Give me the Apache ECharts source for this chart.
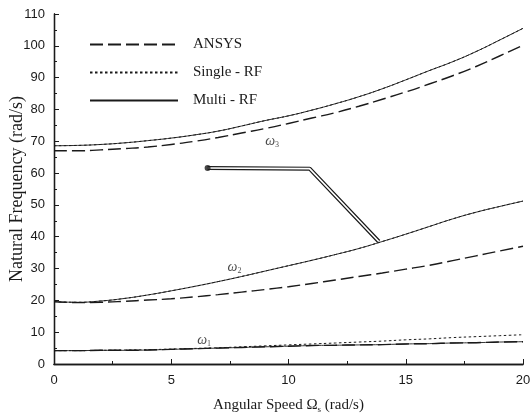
<!DOCTYPE html>
<html><head><meta charset="utf-8">
<script src="https://cdn.jsdelivr.net/npm/echarts@6/dist/echarts.min.js"></script>
<style>html,body{margin:0;padding:0;background:#fff}#c{width:532px;height:417px}</style>
</head><body><div id="c"></div>
<script>
// Angular speed (rad/s)
var speeds = [0,1,2,3,4,5,6,7,8,9,10,11,12,13,14,15,16,17,18,19,20];
// ANSYS
var ansysW1 = [4.2,4.2,4.3,4.3,4.4,4.6,4.8,5.0,5.2,5.4,5.6,5.8,5.9,6.0,6.1,6.3,6.4,6.6,6.7,6.9,7.0];
var ansysW2 = [19.6,19.3,19.4,19.7,20.1,20.5,21.1,21.8,22.6,23.4,24.3,25.3,26.4,27.5,28.6,29.8,31.0,32.5,34.0,35.5,37.0];
var ansysW3 = [67.0,67.0,67.3,67.7,68.2,69.0,70.0,71.2,72.6,74.0,75.6,77.3,79.0,81.0,83.2,85.5,88.0,90.6,93.5,96.8,100.2];
// Single - RF
var singleW1 = [4.2,4.2,4.3,4.4,4.5,4.7,4.9,5.1,5.4,5.7,6.0,6.3,6.6,6.9,7.2,7.6,7.9,8.3,8.6,8.9,9.2];
var singleW2 = [19.6,19.4,19.8,20.6,21.7,23.0,24.4,25.9,27.5,29.2,30.9,32.6,34.4,36.3,38.5,40.8,43.2,45.6,47.7,49.5,51.2];
var singleW3 = [68.6,68.7,69.0,69.5,70.2,71.0,72.0,73.2,74.8,76.5,78.0,79.8,81.8,84.0,86.5,89.3,92.2,95.0,98.2,101.8,105.5];
// Multi - RF
var multiW1 = [4.2,4.2,4.3,4.3,4.4,4.6,4.8,5.0,5.2,5.4,5.6,5.8,5.9,6.0,6.1,6.3,6.4,6.6,6.7,6.9,7.0];
var multiW2 = [19.6,19.4,19.8,20.6,21.7,23.0,24.4,25.9,27.5,29.2,30.9,32.6,34.4,36.3,38.5,40.8,43.2,45.6,47.7,49.5,51.2];
var multiW3 = [68.6,68.7,69.0,69.5,70.2,71.0,72.0,73.2,74.8,76.5,78.0,79.8,81.8,84.0,86.5,89.3,92.2,95.0,98.2,101.8,105.5];
// callout polyline (speed, frequency)
var calloutX = [6.55, 10.9, 13.85];
var calloutY = [61.6, 61.4, 38.5];
// mode labels
var modeNames = ['3','2','1'];
var modeX = [9.3, 7.7, 6.4];
var modeY = [70.0, 30.4, 7.4];

var xTicks = [0,5,10,15,20];
var yTicks = [0,10,20,30,40,50,60,70,80,90,100,110];

function pairs(xs, ys){ return xs.map(function(x,i){ return [x, ys[i]]; }); }

var serif = '"Liberation Serif","Times New Roman",serif';
var sans = '"Liberation Sans",Arial,sans-serif';
var ink = '#1a1a1a';

var styles = {
  'ANSYS': {type:[13,5], width:1.4},
  'Single - RF': {type:[2.5,2.5], width:1},
  'Multi - RF': {type:'solid', width:0.9}
};
function curve(name, ys){
  return {name:name, type:'line', data:pairs(speeds, ys), symbol:'none', smooth:true,
    lineStyle:{color:ink, width:styles[name].width, type:styles[name].type},
    itemStyle:{color:ink}, silent:true, animation:false, z:3};
}

var series = [
  curve('ANSYS', ansysW1), curve('ANSYS', ansysW2), curve('ANSYS', ansysW3),
  curve('Single - RF', singleW1), curve('Single - RF', singleW2), curve('Single - RF', singleW3),
  curve('Multi - RF', multiW1), curve('Multi - RF', multiW2), curve('Multi - RF', multiW3),
  {type:'line', data:pairs(calloutX, calloutY), symbol:'none', lineStyle:{color:ink,width:4}, animation:false, silent:true, z:4},
  {type:'line', data:pairs(calloutX, calloutY), symbol:'none', lineStyle:{color:'#fff',width:1.6}, animation:false, silent:true, z:5},
  {type:'scatter', data:[[calloutX[0], calloutY[0]]], symbolSize:6, itemStyle:{color:ink}, animation:false, silent:true, z:6},
  {type:'scatter', symbolSize:0, animation:false, silent:true, z:6,
    data: modeNames.map(function(n,i){ return {value:[modeX[i], modeY[i]], name:n}; }),
    label:{show:true, position:'inside', formatter:function(p){ return '{w|ω}{s|'+p.name+'}'; },
      rich:{w:{fontFamily:serif, fontStyle:'italic', fontSize:14, color:ink},
            s:{fontFamily:serif, fontSize:8, color:ink, padding:[7,0,0,0]}}}}
];

var chart = echarts.init(document.getElementById('c'), null, {renderer:'canvas'});
chart.setOption({
  backgroundColor:'#fff',
  animation:false,
  grid:{left:54, right:9, top:14, bottom:53, containLabel:false, outerBoundsMode:'none'},
  legend:{data:['ANSYS','Single - RF','Multi - RF'], orient:'vertical', left:84, top:32,
    itemWidth:88, itemHeight:14, itemGap:13, selectedMode:false,
    itemStyle:{opacity:0},
    textStyle:{fontFamily:serif, fontSize:15, color:ink, padding:[0,0,0,10]}},
  xAxis:[{type:'value', min:xTicks[0], max:xTicks[xTicks.length-1], interval:5,
    name:'{a|Angular Speed Ω}{b|s}{a| (rad/s)}', nameLocation:'middle', nameGap:33, nameMoveOverlap:false,
    nameTextStyle:{rich:{a:{fontFamily:serif, fontSize:15, color:ink},
      b:{fontFamily:serif, fontSize:9, color:ink, padding:[8,0,0,0]}}},
    axisLine:{lineStyle:{color:ink, width:1.3}},
    axisTick:{inside:true, length:5, lineStyle:{color:ink}},
    minorTick:{show:true, splitNumber:2, length:3, lineStyle:{color:ink}},
    splitLine:{show:false},
    axisLabel:{fontFamily:sans, fontSize:13, color:ink, margin:10}},
    {type:'value', position:'top', min:0, max:20, axisLine:{show:true, lineStyle:{color:ink,width:1.3}},
     axisTick:{show:false}, axisLabel:{show:false}, splitLine:{show:false}}],
  yAxis:[{type:'value', min:yTicks[0], max:yTicks[yTicks.length-1], interval:10,
    name:'Natural Frequency (rad/s)', nameLocation:'middle', nameGap:28, nameMoveOverlap:false,
    nameTextStyle:{fontFamily:serif, fontSize:18, color:ink},
    axisLine:{lineStyle:{color:ink, width:1.3}},
    axisTick:{inside:true, length:5, lineStyle:{color:ink}},
    minorTick:{show:true, splitNumber:2, length:3, lineStyle:{color:ink}},
    splitLine:{show:false},
    axisLabel:{fontFamily:sans, fontSize:13, color:ink, margin:9}},
    {type:'value', position:'right', min:0, max:110, axisLine:{show:true, lineStyle:{color:ink,width:1.3}},
     axisTick:{show:false}, axisLabel:{show:false}, splitLine:{show:false}}],
  series:series
});
</script></body></html>
